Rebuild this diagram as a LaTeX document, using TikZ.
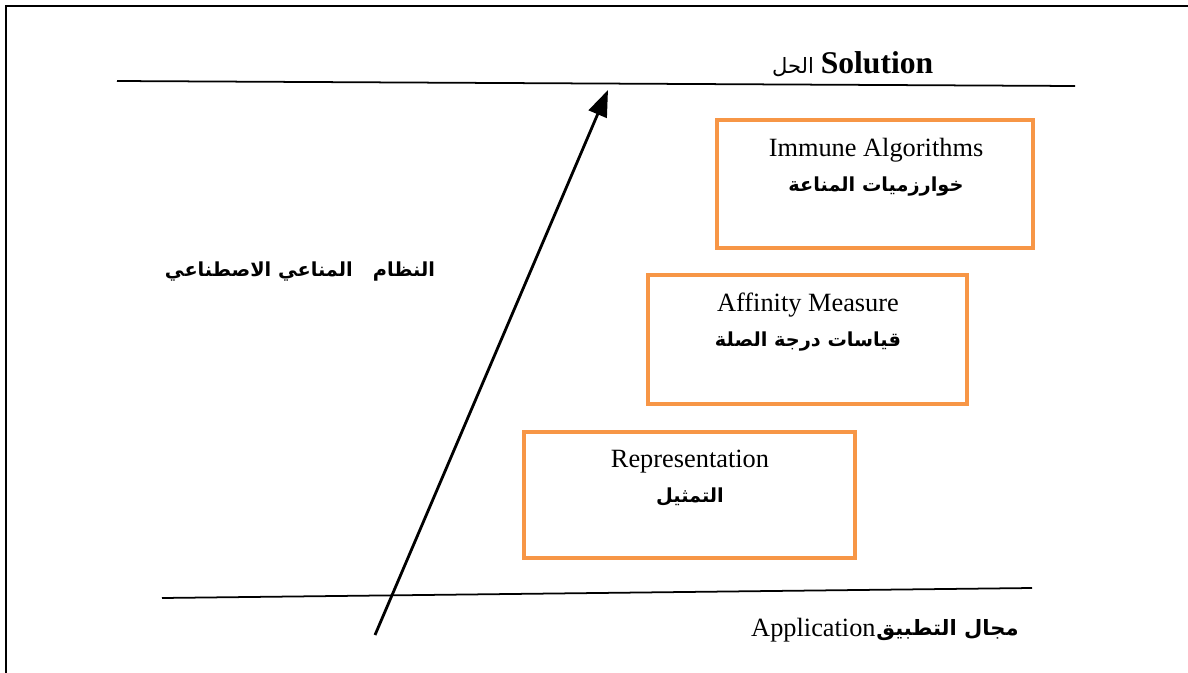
\documentclass[tikz,border=0pt]{standalone}
\usepackage{fontspec}
\setmainfont{Liberation Serif}
\newfontfamily\arabicfont[Script=Arabic]{DejaVu Sans}
\TeXXeTstate=1
\usetikzlibrary{arrows.meta}
\definecolor{boxorange}{HTML}{F79646}
\tikzset{
  frameline/.style={line width=1.7pt},
  axisline/.style={line width=1pt},
  stagebox/.style={draw=boxorange, line width=1.8pt},
  entxt/.style={font=\fontsize{15}{17}\selectfont, inner sep=0pt},
  artxt/.style={font=\arabicfont\bfseries\fontsize{11}{13}\selectfont, inner sep=0pt},
}
\begin{document}
\begin{tikzpicture}[x=0.02cm,y=-0.02cm]
\useasboundingbox (0,0) rectangle (1188,673);
% frame
\coordinate (fl) at (6,673);
\coordinate (ftl) at (6,6);
\coordinate (ftr) at (1188,6);
\draw[frameline] (fl) -- (ftl) -- (ftr);
% axis lines
\coordinate (tl) at (117,81);
\coordinate (tr) at (1075,86);
\draw[axisline] (tl) -- (tr);
\coordinate (bl) at (162,598);
\coordinate (br) at (1032,588);
\draw[axisline] (bl) -- (br);
% arrow
\coordinate (as) at (375,635);
\coordinate (ae) at (608,90);
\draw[line width=1.6pt,-{Triangle[length=15pt,width=11pt]}] (as) -- (ae);
% boxes
\draw[stagebox] (717,120) rectangle (1033,248);
\draw[stagebox] (648,275) rectangle (967,404);
\draw[stagebox] (524,432) rectangle (855,558);
% box texts
\node[entxt] (t1) at (876,150) {Immune Algorithms};
\node[artxt] (a1) at (876,187) {\beginR خوارزميات المناعة\endR};
\node[entxt] (t2) at (808,305) {Affinity Measure};
\node[artxt] (a2) at (808,342) {\beginR قياسات درجة الصلة\endR};
\node[entxt] (t3) at (690,462) {Representation};
\node[artxt] (a3) at (690,497) {\beginR التمثيل\endR};
% labels
\node[font=\bfseries\fontsize{18}{20}\selectfont, inner sep=0pt] (sol) at (877,63) {Solution};
\node[font=\arabicfont\fontsize{12}{14}\selectfont, inner sep=0pt] (solar) at (793,67) {\beginR الحل\endR};
\node[artxt] (ais) at (300,272) {\beginR النظام \ \ المناعي الاصطناعي\endR};
\node[entxt, anchor=east] (app) at (876,630) {Application};
\node[font=\arabicfont\bfseries\fontsize{12}{14}\selectfont, inner sep=0pt, anchor=west] (appar) at (app.east) {\beginR مجال التطبيق\endR};
\end{tikzpicture}
\end{document}
